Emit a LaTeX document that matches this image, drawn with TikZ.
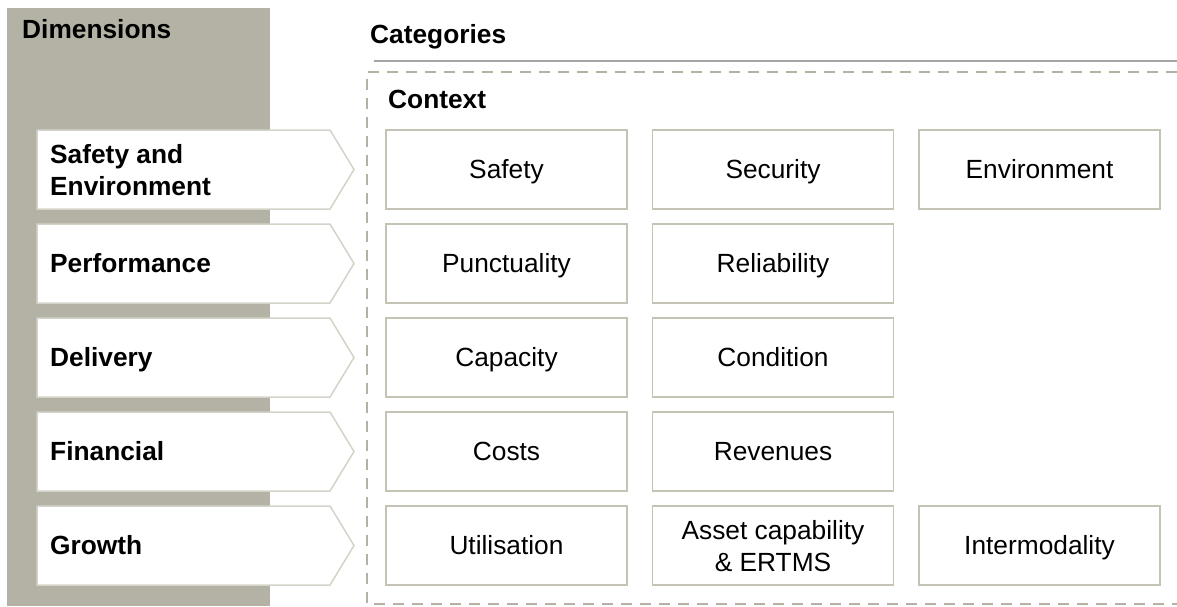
\documentclass[tikz,border=0pt]{standalone}
\usepackage{fontspec}
\setmainfont{Liberation Sans}
\usepackage{tikz}

\definecolor{panelgrey}{RGB}{180,178,164}
\definecolor{boxline}{RGB}{196,195,182}
\definecolor{arrowline}{RGB}{212,211,201}
\definecolor{rulegrey}{RGB}{166,166,166}

\begin{document}
\begin{tikzpicture}[
		x=1pt, y=-1pt,
		every node/.style={font=\fontsize{26.3}{32}\selectfont, inner sep=0pt},
		title/.style={font=\fontsize{26.3}{32}\selectfont\bfseries, anchor=base west},
		dimlabel/.style={font=\fontsize{26.3}{32}\selectfont\bfseries, anchor=base west, align=left},
		dimarrow/.style={draw=arrowline, line width=1.5pt, fill=white},
		catbox/.style={rectangle, draw=boxline, line width=1.5pt, fill=white,
			minimum width=241pt, minimum height=79pt, align=center},
		oneline/.style={text height=18.5pt, text depth=1pt}
	]
  \useasboundingbox (0,0) rectangle (1177,606);
  % grey panel behind the dimensions
  \fill [panelgrey] (7,8) rectangle (270,606);
  \node (dimensions) [title] at (22, 38) {Dimensions};
  \node (categories) [title] at (370, 43) {Categories};
  \coordinate (rule_l) at (374, 61);
  \coordinate (rule_r) at (1177, 61);
  \draw [rulegrey, line width=1.5pt] (rule_l) -- (rule_r);
  % dashed frame, open to the right
  \coordinate (frame_tr) at (1177, 72);
  \coordinate (frame_tl) at (367, 72);
  \coordinate (frame_bl) at (367, 604);
  \coordinate (frame_br) at (1177, 604);
  \draw [panelgrey, line width=2.5pt, dash pattern=on 11pt off 8pt]
    (frame_tr) -- (frame_tl) -- (frame_bl) -- (frame_br);
  \node (context) [title] at (388, 108) {Context};

  % dimension arrows
  \draw [dimarrow] (37,130) -- ++(293,0) -- ++(24,39.5) -- ++(-24,39.5) -- ++(-293,0) -- cycle;
  \draw [dimarrow] (37,224) -- ++(293,0) -- ++(24,39.5) -- ++(-24,39.5) -- ++(-293,0) -- cycle;
  \draw [dimarrow] (37,318) -- ++(293,0) -- ++(24,39.5) -- ++(-24,39.5) -- ++(-293,0) -- cycle;
  \draw [dimarrow] (37,412) -- ++(293,0) -- ++(24,39.5) -- ++(-24,39.5) -- ++(-293,0) -- cycle;
  \draw [dimarrow] (37,506) -- ++(293,0) -- ++(24,39.5) -- ++(-24,39.5) -- ++(-293,0) -- cycle;
  \node (safety_env) [dimlabel] at (50, 195) {Safety and\\Environment};
  \node (performance) [dimlabel] at (50, 272) {Performance};
  \node (delivery) [dimlabel] at (50, 366) {Delivery};
  \node (financial) [dimlabel] at (50, 460) {Financial};
  \node (growth) [dimlabel] at (50, 554) {Growth};

  % categories
  \node (safety) [catbox, oneline] at (506.5, 169.5) {Safety};
  \node (security) [catbox, oneline] at (773, 169.5) {Security};
  \node (environment) [catbox, oneline] at (1039.5, 169.5) {Environment};
  \node (punctuality) [catbox, oneline] at (506.5, 263.5) {Punctuality};
  \node (reliability) [catbox, oneline] at (773, 263.5) {Reliability};
  \node (capacity) [catbox, oneline] at (506.5, 357.5) {Capacity};
  \node (condition) [catbox, oneline] at (773, 357.5) {Condition};
  \node (costs) [catbox, oneline] at (506.5, 451.5) {Costs};
  \node (revenues) [catbox, oneline] at (773, 451.5) {Revenues};
  \node (utilisation) [catbox, oneline] at (506.5, 545.5) {Utilisation};
  \node (asset) [catbox, text depth=-3pt] at (773, 545.5) {Asset capability\\\& ERTMS};
  \node (intermodality) [catbox, oneline] at (1039.5, 545.5) {Intermodality};
\end{tikzpicture}
\end{document}
